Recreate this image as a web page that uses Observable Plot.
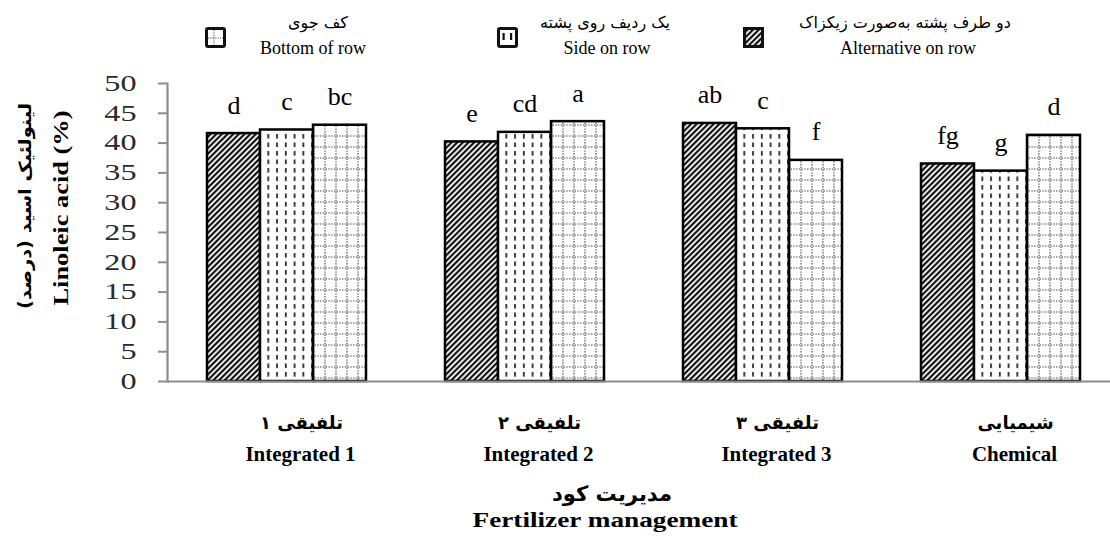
<!DOCTYPE html>
<html><head><meta charset="utf-8">
<script src="https://cdn.jsdelivr.net/npm/d3@7"></script>
<script src="https://cdn.jsdelivr.net/npm/@observablehq/plot@0.6"></script>
<style>
html,body{margin:0;padding:0;background:#fff;overflow:hidden;}
#wrap{width:1110px;height:540px;position:relative;}
svg{display:block}
</style></head><body><div id="wrap"><div id="legend"></div><div id="chart"></div></div>
<script>
const groups = ["Integrated 1", "Integrated 2", "Integrated 3", "Chemical"];
const groupsFa = ["تلفیقی ۱", "تلفیقی ۲", "تلفیقی ۳", "شیمیایی"];
const series = ["Alternative on row", "Side on row", "Bottom of row"];
const seriesFa = ["دو طرف پشته به‌صورت زیکزاک", "یک ردیف روی پشته", "کف جوی"];
const alternative = [41.6, 40.2, 43.3, 36.5];
const side = [42.2, 41.8, 42.4, 35.3];
const bottom = [43.0, 43.6, 37.1, 41.3];
const lettersAlternative = ["d", "e", "ab", "fg"];
const lettersSide = ["c", "cd", "c", "g"];
const lettersBottom = ["bc", "a", "f", "d"];
const yTicks = [0, 5, 10, 15, 20, 25, 30, 35, 40, 45, 50];
const yTitle = "Linoleic acid (%)";
const yTitleFa = "لینولئیک اسید (درصد)";
const xTitle = "Fertilizer management";
const xTitleFa = "مدیریت کود";

const valuesBySeries = [alternative, side, bottom];
const lettersBySeries = [lettersAlternative, lettersSide, lettersBottom];
const data = groups.flatMap((g, i) => series.map((s, j) => ({
  group: g, series: s, value: valuesBySeries[j][i], letter: lettersBySeries[j][i]
})));

const LEG_H = 65;
const SERIF = "'Liberation Serif', 'Times New Roman', serif";
const FA = "'DejaVu Sans', sans-serif";
const patIds = {"Alternative on row": "pat-alt", "Side on row": "pat-side", "Bottom of row": "pat-bottom"};

const chart = Plot.plot({
  width: 1110, height: 540 - LEG_H,
  marginLeft: 166, marginRight: -10, marginTop: 83 - LEG_H, marginBottom: 540 - 381,
  fx: {domain: groups, padding: 0, axis: null, label: null},
  x: {domain: series, paddingInner: 0, paddingOuter: 0.729, axis: null},
  y: {domain: [0, 50], axis: null},
  color: {type: "ordinal", domain: series, range: series.map(s => `url(#${patIds[s]})`)},
  style: {fontFamily: SERIF, background: "white"},
  marks: [
    Plot.barY(data, {fx: "group", x: "series", y: "value", fill: "series", stroke: "black", strokeWidth: 2.5}),
    Plot.ruleY([0], {stroke: "#8c8c8c", strokeWidth: 2.2}),
    Plot.frame({anchor: "left", facetAnchor: "left", stroke: "#8c8c8c", strokeWidth: 2.2}),
    Plot.axisY({ticks: yTicks, tickSize: 9, tickPadding: 22, fontSize: 23, stroke: "#8c8c8c", strokeWidth: 2, fill: "#2a2a2a", label: null}),
    Plot.text(data, {fx: "group", x: "series", y: "value", text: "letter", dy: -20, lineAnchor: "bottom", fontSize: 26, fill: "black", ariaLabel: "letters"}),
    Plot.text(groups, {fx: groups, text: groupsFa, frameAnchor: "bottom", lineAnchor: "middle", dy: 42, dx: 15, fontFamily: FA, fontWeight: "bold", fontSize: 18, fill: "black", ariaLabel: "gfa"}),
    Plot.text(groups, {fx: groups, text: groups, frameAnchor: "bottom", lineAnchor: "middle", dy: 73, dx: 14, fontWeight: "bold", fontSize: 21, fill: "black", ariaLabel: "gen"})
  ]
});

const svg = d3.select(chart);
svg.selectAll('g[aria-label="y-axis tick label"]').attr("font-family", SERIF).attr("font-size", 23);
svg.selectAll('g[aria-label="letters"], g[aria-label="gen"]').attr("font-family", SERIF);
const defs = svg.insert("defs", ":first-child");
// hatch
const pa = defs.append("pattern").attr("id", "pat-alt").attr("patternUnits", "userSpaceOnUse")
  .attr("width", 4).attr("height", 4).attr("patternTransform", "rotate(45)");
pa.append("rect").attr("width", 4).attr("height", 4).attr("fill", "white");
pa.append("rect").attr("width", 2.2).attr("height", 4).attr("fill", "#111");
// dashes
const ps = defs.append("pattern").attr("id", "pat-side").attr("patternUnits", "userSpaceOnUse")
  .attr("width", 8.75).attr("height", 8.5);
ps.append("rect").attr("width", 8.75).attr("height", 8.5).attr("fill", "white");
ps.append("rect").attr("x", 4).attr("y", 1).attr("width", 1.6).attr("height", 4.6).attr("fill", "#111");
// dotted grid
const pb = defs.append("pattern").attr("id", "pat-bottom").attr("patternUnits", "userSpaceOnUse")
  .attr("width", 11).attr("height", 11);
pb.append("rect").attr("width", 11).attr("height", 11).attr("fill", "white");
pb.append("line").attr("x1", 5).attr("x2", 5).attr("y1", 0).attr("y2", 11).attr("stroke", "#444").attr("stroke-width", 1.1).attr("stroke-dasharray", "1.4 1.4");
pb.append("line").attr("x1", 0).attr("x2", 11).attr("y1", 5).attr("y2", 5).attr("stroke", "#444").attr("stroke-width", 1.1).attr("stroke-dasharray", "1.4 1.4");

// axis titles
const T = (y) => y - LEG_H;
svg.append("text").attr("transform", `translate(31,${T(206)}) rotate(-90)`).attr("text-anchor", "middle")
  .attr("font-family", FA).attr("font-weight", "bold").attr("font-size", 17)
  .attr("textLength", 206).attr("lengthAdjust", "spacingAndGlyphs").text(yTitleFa);
svg.append("text").attr("transform", `translate(68,${T(208)}) rotate(-90)`).attr("text-anchor", "middle")
  .attr("font-family", SERIF).attr("font-weight", "bold").attr("font-size", 21)
  .attr("textLength", 195).attr("lengthAdjust", "spacingAndGlyphs").text(yTitle);
svg.append("text").attr("x", 612).attr("y", T(501)).attr("text-anchor", "middle")
  .attr("font-family", FA).attr("font-weight", "bold").attr("font-size", 21)
  .attr("textLength", 120).attr("lengthAdjust", "spacingAndGlyphs").text(xTitleFa);
svg.append("text").attr("x", 605).attr("y", T(527)).attr("text-anchor", "middle")
  .attr("font-family", SERIF).attr("font-weight", "bold").attr("font-size", 22)
  .attr("textLength", 265).attr("lengthAdjust", "spacingAndGlyphs").text(xTitle);

// legend
const leg = d3.select("#legend").append("svg").attr("width", 1110).attr("height", LEG_H);
const legOrder = ["Bottom of row", "Side on row", "Alternative on row"];
const iconX = [205, 497, 743];
const faX = [318, 605, 905];
const enX = [313, 607, 908];
legOrder.forEach((s, i) => {
  const g = leg.append("g").attr("transform", `translate(${iconX[i]},27)`);
  if (s === "Alternative on row") {
    g.append("rect").attr("x", 1.5).attr("y", 1.5).attr("width", 18).attr("height", 18).attr("fill", "url(#pat-alt)").attr("stroke", "#111").attr("stroke-width", 3);
  } else {
    g.append("rect").attr("x", 1.5).attr("y", 1.5).attr("width", 18).attr("height", 18).attr("rx", 1.5).attr("fill", "white").attr("stroke", "#111").attr("stroke-width", 3);
    if (s === "Bottom of row") {
      g.append("line").attr("x1", 9).attr("x2", 9).attr("y1", 3).attr("y2", 18).attr("stroke", "#555").attr("stroke-dasharray", "1.2 1.2");
      g.append("line").attr("x1", 3).attr("x2", 18).attr("y1", 11).attr("y2", 11).attr("stroke", "#555").attr("stroke-dasharray", "1.2 1.2");
    } else {
      g.append("rect").attr("x", 5.5).attr("y", 6).attr("width", 2.2).attr("height", 7).attr("fill", "#111");
      g.append("rect").attr("x", 13).attr("y", 6).attr("width", 2.2).attr("height", 7).attr("fill", "#111");
    }
  }
  leg.append("text").attr("x", faX[i]).attr("y", 28).attr("text-anchor", "middle").attr("direction", "rtl")
    .attr("font-family", FA).attr("font-size", 16).text(seriesFa[series.indexOf(s)]);
  leg.append("text").attr("x", enX[i]).attr("y", 54).attr("text-anchor", "middle")
    .attr("font-family", SERIF).attr("font-size", 18).text(s);
});

document.getElementById("chart").appendChild(chart);

// widen glyphs to match the reference's wide typesetting
function stretch(sel, k) {
  sel.each(function () {
    const L = this.getComputedTextLength();
    this.setAttribute("textLength", L * k);
    this.setAttribute("lengthAdjust", "spacingAndGlyphs");
  });
}
stretch(svg.selectAll('g[aria-label="y-axis tick label"] text'), 1.4);
stretch(svg.selectAll('g[aria-label="letters"] text'), 1.3);
stretch(svg.selectAll('g[aria-label="gen"] text'), 1.18);
</script></body></html>
